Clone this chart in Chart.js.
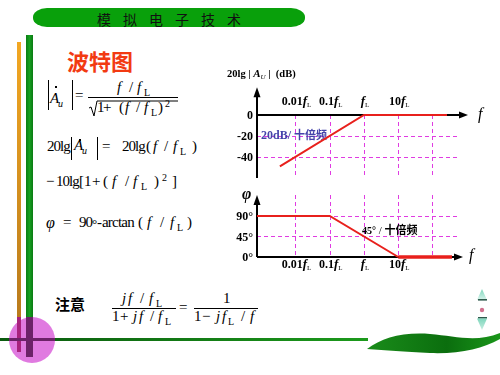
<!DOCTYPE html>
<html><head><meta charset="utf-8">
<script src="https://cdn.jsdelivr.net/npm/chart.js@4.4.1/dist/chart.umd.min.js"></script>
<style>
html,body{margin:0;padding:0;background:#fff;width:500px;height:375px;overflow:hidden;}
#stage{position:relative;width:500px;height:375px;}
.abs{position:absolute;left:0;top:0;}
canvas{position:absolute;left:0;top:0;}
.t{position:absolute;white-space:nowrap;line-height:1;font-family:"Liberation Serif","Times New Roman",serif;color:#000;}
.i{font-style:italic;}
.cjk{font-family:"Noto Sans CJK SC",sans-serif;}
.ln{position:absolute;background:#000;}
</style></head>
<body><div id="stage">
<svg class="abs" width="500" height="375" viewBox="0 0 500 375">
 <defs>
  <linearGradient id="gOr" x1="0" y1="0" x2="0" y2="1"><stop offset="0" stop-color="#f2a722"/><stop offset="1" stop-color="#b87a1c"/></linearGradient>
  <linearGradient id="gGr" x1="0" y1="0" x2="1" y2="0"><stop offset="0" stop-color="#0a7e14"/><stop offset="0.5" stop-color="#16a020"/><stop offset="1" stop-color="#0a7a12"/></linearGradient>
  <linearGradient id="gH" x1="0" y1="0" x2="1" y2="0"><stop offset="0" stop-color="#0a5a0e"/><stop offset="1" stop-color="#1c9a1c"/></linearGradient>
  <linearGradient id="gLeaf" x1="0" y1="0" x2="1" y2="0"><stop offset="0" stop-color="#1a8c1a"/><stop offset="0.6" stop-color="#0b6e0e"/><stop offset="1" stop-color="#1a961a"/></linearGradient>
  <linearGradient id="gNav" x1="0" y1="0" x2="0" y2="1"><stop offset="0" stop-color="#7fd6bc"/><stop offset="1" stop-color="#d8f4ec"/></linearGradient>
  <linearGradient id="gNav2" x1="0" y1="1" x2="0" y2="0"><stop offset="0" stop-color="#c8eee2"/><stop offset="1" stop-color="#7fd6bc"/></linearGradient>
 </defs>
 <rect x="33" y="8" width="272" height="19" rx="14" ry="9" fill="#09a00b"/>
 <rect x="17" y="42" width="4" height="280" fill="url(#gOr)"/>
 <rect x="26" y="35" width="7" height="285" fill="url(#gGr)"/>
 <rect x="0" y="338" width="368" height="3" fill="url(#gH)"/>
 <circle cx="32" cy="340" r="23" fill="#e07ae0"/>
 <rect x="17" y="317" width="4" height="35" fill="#a8227e"/>
 <rect x="26" y="317" width="7" height="40" fill="#6c2268"/>
 <rect x="9" y="338" width="46" height="3" fill="#6c2268"/>
 <path d="M367,349 C382,338 402,332 430,334 C455,336 476,343 500,333 L500,339 C482,349 460,354 430,353 C404,352 386,350 367,349 Z" fill="url(#gLeaf)"/>
 <polygon points="482,289 477,300 487,300" fill="url(#gNav)"/>
 <rect x="478" y="299" width="9" height="1.6" fill="#2f5a4c"/>
 <circle cx="482" cy="310" r="2.2" fill="#d0708e"/>
 <rect x="478" y="317" width="9" height="1.6" fill="#2f5a4c"/>
 <polygon points="477,318.6 487,318.6 482,330" fill="url(#gNav2)"/>
 <polyline points="89,108 91,107 94,116 97,101 178,101" fill="none" stroke="#000" stroke-width="1"/>
</svg>
<div id="formulas" class="abs"></div>
<canvas id="mag" width="500" height="375"></canvas>
<canvas id="phase" width="500" height="375"></canvas>
</div>
<script>
// ---------------- chart data (frequencies in multiples of fL) ----------------
const frequencyTicks = [0.01, 0.1, 1, 10, 100];
const frequencyTickLabels = ['0.01', '0.1', '', '10'];
const magnitudeTicks = [0, -20, -40];
const magnitudeTickLabels = ['0', '-20', '-40'];
const magnitudeFreq = [0.0035, 1, 265];
const magnitudeDb = [-49, 0, 0];
const phaseTicks = [90, 45, 0];
const phaseTickLabels = ['90°', '45°', '0°'];
const phaseFreq = [0.00075, 0.1, 10, 370];
const phaseDeg = [90, 90, 0, 0];

// ---------------- slide text ----------------
const F = document.getElementById('formulas');
function put(txt, x, base, size, cls, extra) {
  const s = document.createElement('span');
  s.className = 't ' + (cls || '');
  s.textContent = txt;
  s.style.left = x + 'px';
  s.style.top = (base - 0.8375 * size) + 'px';
  s.style.fontSize = size + 'px';
  if (extra) Object.assign(s.style, extra);
  F.appendChild(s);
}
function cjk(txt, x, top, size, color, weight, extra) {
  const s = document.createElement('span');
  s.className = 't cjk';
  s.textContent = txt;
  s.style.left = x + 'px'; s.style.top = top + 'px';
  s.style.fontSize = size + 'px'; s.style.color = color; s.style.fontWeight = weight;
  if (extra) Object.assign(s.style, extra);
  F.appendChild(s);
}
function box(x, y, w, h) {
  const d = document.createElement('div');
  d.className = 'ln';
  d.style.left = x + 'px'; d.style.top = y + 'px'; d.style.width = w + 'px'; d.style.height = h + 'px';
  F.appendChild(d);
}
const tight = {letterSpacing: '-1px'};
cjk('模拟电子技术', 97, 11.5, 14, '#111', 400, {letterSpacing: '12px'});
cjk('波特图', 67, 48.5, 22, '#f23a12', 700);
// |Au| = (f/fL)/sqrt(1+(f/fL)^2)
box(48, 80, 1, 30); box(72, 80, 1, 30); box(55, 86, 2, 1.5);
put('A', 50, 104, 15, 'i'); put('u', 58, 107, 10, 'i');
put('=', 75, 101, 15);
box(88, 97, 90, 1);
put('f', 117, 93, 15, 'i'); put('/', 129, 93, 15); put('f', 137, 93, 15, 'i'); put('L', 144, 96, 10);
put('1', 97, 113, 15); put('+', 103, 113, 15); put('(', 119, 113, 15); put('f', 125, 113, 15, 'i');
put('/', 136, 113, 15); put('f', 144, 113, 15, 'i'); put('L', 151, 116, 10); put(')', 158, 113, 15); put('2', 165, 107, 10);
// 20lg|Au| = 20lg(f/fL)
put('20lg', 47, 152, 15, '', tight);
box(71, 137, 1, 23); box(97, 137, 1, 23); box(79, 139, 2, 1.5);
put('A', 74, 151, 15, 'i'); put('u', 82, 154, 10, 'i');
put('=', 102, 152, 15);
put('20lg', 122, 152, 15, '', tight); put('(', 146, 152, 15); put('f', 153, 152, 15, 'i'); put('/', 164, 152, 15);
put('f', 173, 152, 15, 'i'); put('L', 180, 155, 10); put(')', 192, 152, 15);
// -10lg[1+(f/fL)^2]
put('−', 46, 187, 15); put('10lg', 56, 187, 15, '', tight); put('[', 79, 187, 15); put('1', 84, 187, 15);
put('+', 92, 187, 15); put('(', 103, 187, 15); put('f', 112, 187, 15, 'i'); put('/', 125, 187, 15);
put('f', 133, 187, 15, 'i'); put('L', 141, 190, 10); put(')', 154, 187, 15); put('2', 162, 181, 10); put(']', 172, 187, 15);
// phi = 90°-arctan(f/fL)
put('φ', 46, 228, 16, 'i'); put('=', 63, 228, 15); put('90', 79, 228, 15, '', tight); put('°', 92, 228, 13); put('-', 97, 228, 15);
put('arctan', 102, 228, 15, '', {letterSpacing: '-0.8px'}); put('(', 138, 228, 15); put('f', 147, 228, 15, 'i');
put('/', 160, 228, 15); put('f', 170, 228, 15, 'i'); put('L', 177, 231, 10); put(')', 187, 228, 15);
// 注意
cjk('注意', 55, 296, 15, '#000', 700);
put('j', 122, 304, 15, 'i'); put('f', 128, 304, 15, 'i'); put('/', 140, 304, 15); put('f', 149, 304, 15, 'i'); put('L', 156, 307, 10);
box(112, 308, 64, 1);
put('1', 112, 322, 15); put('+', 120, 322, 15); put('j', 133, 322, 15, 'i'); put('f', 139, 322, 15, 'i');
put('/', 150, 322, 15); put('f', 158, 322, 15, 'i'); put('L', 165, 325, 10);
put('=', 179, 313, 15);
put('1', 223, 304, 15);
box(194, 308, 64, 1);
put('1', 194, 322, 15); put('−', 202, 322, 15); put('j', 216, 322, 15, 'i'); put('f', 222, 322, 15, 'i');
put('L', 228, 325, 10); put('/', 241, 322, 15); put('f', 250, 322, 15, 'i');

// ---------------- chart helpers ----------------
const GRID = '#e03ce2', RED = '#e8201c', DASH = [4, 3];
const SERIF = '"Liberation Serif","Times New Roman",serif';
const CJKF = '"Noto Sans CJK SC",sans-serif';
function seg(ctx, x1, y1, x2, y2) { ctx.beginPath(); ctx.moveTo(x1, y1); ctx.lineTo(x2, y2); ctx.stroke(); }
function arrowUp(ctx, x, tip) { ctx.beginPath(); ctx.moveTo(x, tip); ctx.lineTo(x - 3.5, tip + 10); ctx.lineTo(x + 3.5, tip + 10); ctx.closePath(); ctx.fill(); }
function arrowRight(ctx, tip, y) { ctx.beginPath(); ctx.moveTo(tip, y); ctx.lineTo(tip - 9, y - 3.5); ctx.lineTo(tip - 9, y + 3.5); ctx.closePath(); ctx.fill(); }
function rich(ctx, pieces, x, base, align) {
  let w = 0;
  pieces.forEach(p => { ctx.font = p[1]; w += ctx.measureText(p[0]).width; });
  let cx = align === 'center' ? x - w / 2 : align === 'right' ? x - w : x;
  ctx.textAlign = 'left'; ctx.textBaseline = 'alphabetic';
  pieces.forEach(p => { ctx.font = p[1]; ctx.fillText(p[0], cx, base + (p[2] || 0)); cx += ctx.measureText(p[0]).width; });
}
function freqLabel(num) {
  return [[num, 'bold 12px ' + SERIF], ['f', 'italic bold 13px ' + SERIF], ['L', '7px ' + SERIF, 2]];
}
function dashedGrid(ctx, a, x, y, yFrom) {
  ctx.strokeStyle = GRID; ctx.lineWidth = 1; ctx.setLineDash(DASH);
  frequencyTicks.forEach(f => { const px = Math.round(x.getPixelForValue(f)) + 0.5; seg(ctx, px, yFrom, px, a.bottom); });
  ctx.setLineDash([]);
}
const X_MIN = Math.pow(10, -3.124), X_MAX = Math.pow(10, 2.774);

const magPlugin = {
  id: 'magDeco',
  beforeDatasetsDraw(chart) {
    const {ctx, chartArea: a, scales: {x, y}} = chart;
    ctx.save();
    const y0 = y.getPixelForValue(0);
    dashedGrid(ctx, a, x, y, y0);
    ctx.strokeStyle = GRID; ctx.setLineDash(DASH);
    magnitudeTicks.filter(v => v !== 0).forEach(v => { const py = Math.round(y.getPixelForValue(v)) + 0.5; seg(ctx, a.left, py, a.right, py); });
    ctx.setLineDash([]);
    ctx.strokeStyle = '#000'; ctx.fillStyle = '#000'; ctx.lineWidth = 2;
    const tip = y.getPixelForValue(26.5);
    seg(ctx, a.left, a.bottom, a.left, tip + 8); arrowUp(ctx, a.left, tip);
    seg(ctx, a.left, y0, a.right + 2, y0); arrowRight(ctx, a.right + 9, y0);
    ctx.font = 'bold 12px ' + SERIF; ctx.textAlign = 'right'; ctx.textBaseline = 'middle';
    magnitudeTicks.forEach((v, i) => ctx.fillText(magnitudeTickLabels[i], a.left - 4, y.getPixelForValue(v) + 1));
    frequencyTickLabels.forEach((n, i) => rich(ctx, freqLabel(n), x.getPixelForValue(frequencyTicks[i]) + 1, y0 - 10, 'center'));
    rich(ctx, [['20lg | ', 'bold 10.5px ' + SERIF], ['A', 'italic bold 11px ' + SERIF], ['U', 'italic 7px ' + SERIF, 2], [' |  (dB)', 'bold 10.5px ' + SERIF]], a.left - 30, y0 - 38, 'left');
    rich(ctx, [['f', 'italic 16px ' + SERIF]], a.right + 19, y0 + 4, 'left');
    ctx.fillStyle = '#4444aa';
    rich(ctx, [['20dB/ ', 'bold 12px ' + SERIF], ['十倍频', 'bold 11px ' + CJKF]], a.left + 4, y.getPixelForValue(-20) + 3, 'left');
    ctx.restore();
  }
};

const phasePlugin = {
  id: 'phaseDeco',
  beforeDatasetsDraw(chart) {
    const {ctx, chartArea: a, scales: {x, y}} = chart;
    ctx.save();
    dashedGrid(ctx, a, x, y, a.top);
    ctx.strokeStyle = GRID; ctx.setLineDash(DASH);
    phaseTicks.filter(v => v !== 0).forEach(v => { const py = Math.round(y.getPixelForValue(v)) + 0.5; seg(ctx, a.left, py, a.right, py); });
    ctx.setLineDash([]);
    ctx.strokeStyle = '#000'; ctx.fillStyle = '#000'; ctx.lineWidth = 2;
    const y0 = y.getPixelForValue(0);
    seg(ctx, a.left, y0, a.left, a.top + 8); arrowUp(ctx, a.left, a.top);
    seg(ctx, a.left, y0, a.right - 2, y0); arrowRight(ctx, a.right + 4, y0);
    ctx.font = 'bold 12px ' + SERIF; ctx.textAlign = 'right'; ctx.textBaseline = 'middle';
    phaseTicks.forEach((v, i) => ctx.fillText(phaseTickLabels[i], a.left - 4, y.getPixelForValue(v) + 1));
    frequencyTickLabels.forEach((n, i) => rich(ctx, freqLabel(n), x.getPixelForValue(frequencyTicks[i]) + 1, y0 + 11, 'center'));
    rich(ctx, [['φ', 'italic bold 16px ' + SERIF]], a.left - 15, a.top + 4, 'left');
    rich(ctx, [['f', 'italic 16px ' + SERIF]], a.right + 10, y0 + 3, 'left');
    rich(ctx, [['45°', 'bold 10px ' + SERIF], [' / ', '11px ' + SERIF], ['十倍频', 'bold 11px ' + CJKF]], x.getPixelForValue(1) - 2, y.getPixelForValue(45) - 2, 'left');
    ctx.restore();
  }
};

function makeChart(id, xs, ys, yMin, yMax, pad, plugin, segWidth) {
  return new Chart(document.getElementById(id), {
    type: 'line',
    data: {datasets: [{
      data: xs.map((f, i) => ({x: f, y: ys[i]})),
      borderColor: RED, borderWidth: 2, pointRadius: 0, tension: 0, fill: false, clip: false,
      segment: {borderWidth: segWidth}
    }]},
    options: {
      responsive: false, animation: false, events: [],
      layout: {padding: pad},
      scales: {
        x: {type: 'logarithmic', display: false, min: X_MIN, max: X_MAX},
        y: {type: 'linear', display: false, min: yMin, max: yMax}
      },
      plugins: {legend: {display: false}, tooltip: {enabled: false}}
    },
    plugins: [plugin]
  });
}
makeChart('mag', magnitudeFreq, magnitudeDb, -60, 0, {left: 257, right: 41, top: 115, bottom: 197}, magPlugin, () => 2);
makeChart('phase', phaseFreq, phaseDeg, 0, 136, {left: 257, right: 41, top: 195, bottom: 118}, phasePlugin,
  ctx => ctx.p0DataIndex === 2 ? 3.5 : 2);
</script>
</body></html>
